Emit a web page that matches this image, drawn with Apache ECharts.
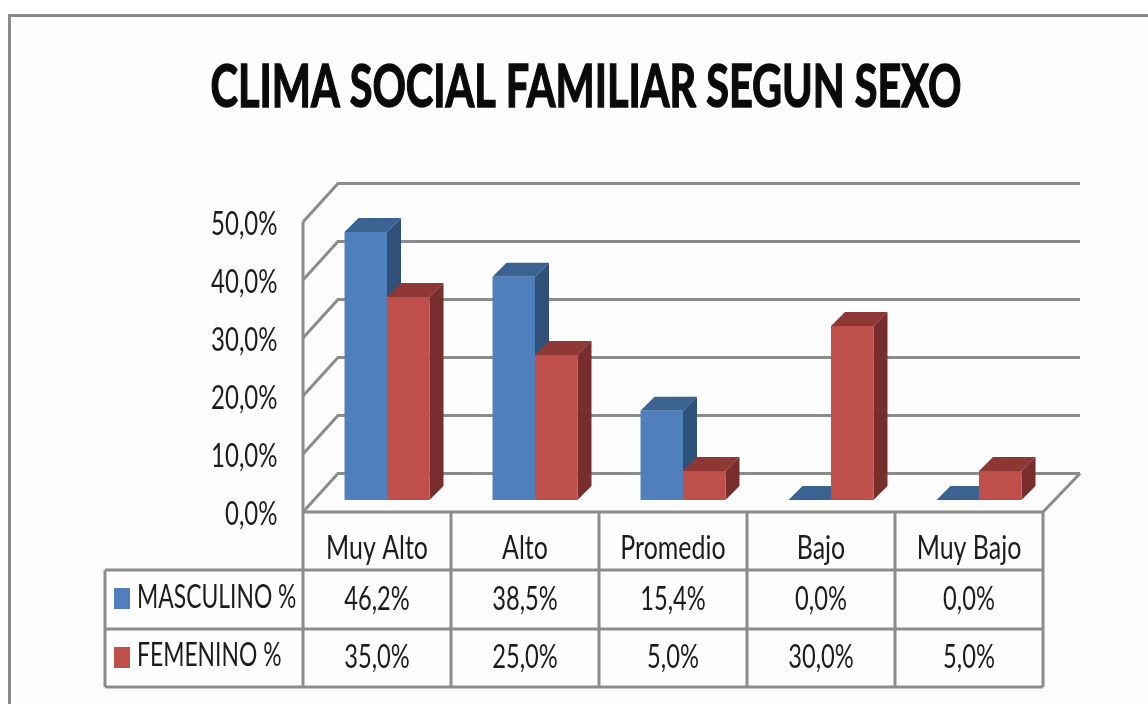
<!DOCTYPE html>
<html>
<head>
<meta charset="utf-8">
<style>html,body{margin:0;padding:0;background:#fff}#c{width:1148px;height:704px}</style>
<script src="https://cdn.jsdelivr.net/npm/echarts@6/dist/echarts.min.js"></script>
</head>
<body>
<div id="c"></div>
<script>
const categories = ['Muy Alto', 'Alto', 'Promedio', 'Bajo', 'Muy Bajo'];
const masculino = [46.2, 38.5, 15.4, 0, 0];
const femenino = [35, 25, 5, 30, 5];
const seriesNames = ['MASCULINO %', 'FEMENINO %'];
const yTicks = [0, 10, 20, 30, 40, 50];
const titleText = 'CLIMA SOCIAL FAMILIAR SEGUN SEXO';

const GRID = '#8b8b8b', INK = '#1c1c1c';
const FONT = '32px Lato, "Noto Sans", sans-serif';
const fmt = v => v.toFixed(1).replace('.', ',') + '%';
const skins = [
  {front: '#4f7fbc', top: '#3b6391', side: '#2f5079', rowY: 600},
  {front: '#bf4f4b', top: '#8e3836', side: '#772e2c', rowY: 658}
];
const line = (pts, z2) => ({type: 'polyline', z2: z2 || 0, shape: {points: pts}, style: {stroke: GRID, lineWidth: 3, fill: null}});
const label = (text, x, y, align, squeeze) => ({
  type: 'text', z2: 5, silent: true, x, y, scaleX: squeeze,
  style: {x: 0, y: 0, text, align, verticalAlign: 'middle', font: FONT, fill: INK}
});

function barSeries(name, values, idx) {
  const s = skins[idx];
  return {
    name, type: 'custom', z: 3,
    itemStyle: {color: s.front},
    data: values.map((v, i) => [i, v]),
    encode: {x: 0, y: 1},
    renderItem(params, api) {
      const i = api.value(0), v = api.value(1);
      const band = api.size([1, 0])[0];
      const w = band * 0.287, lift = 12, shift = 10, d = 14;
      const c = api.coord([i, v]), base = api.coord([i, 0]);
      const x0 = c[0] + shift + (idx === 0 ? -w : 0), x1 = x0 + w;
      const yT = c[1] - lift, yB = base[1] - lift;
      const poly = (pts, fill, z2) => ({type: 'polygon', z2, shape: {points: pts}, style: {fill}});
      const kids = [];
      if (v > 0) kids.push(poly([[x1, yT], [x1 + d, yT - d], [x1 + d, yB - d], [x1, yB]], s.side, 1));
      kids.push(poly([[x0, yT], [x0 + d, yT - d], [x1 + d, yT - d], [x1, yT]], s.top, 1));
      if (v > 0) kids.push({type: 'rect', z2: 2, shape: {x: x0, y: yT, width: w, height: yB - yT}, style: {fill: s.front}});
      kids.push(label(fmt(v), c[0], s.rowY, 'center', 0.74));
      if (i === 0) kids.push(label(name, 137, s.rowY - 2, 'left', 0.715));
      return {type: 'group', children: kids};
    }
  };
}

const wallSeries = {
  type: 'custom', z: 1, silent: true, legendHoverLink: false,
  data: yTicks.map(t => [0, t]),
  encode: {x: 0, y: 1},
  renderItem(params, api) {
    const t = api.value(1);
    const p = api.coord([0, t]);
    const band = api.size([1, 0])[0];
    const left = p[0] - band / 2, right = left + band * categories.length;
    return {type: 'group', children: [
      line([[left, p[1]], [left + 35, p[1] - 38.5], [right + 37, p[1] - 38.5]]),
      label(fmt(t), left - 25.5, p[1] + 3, 'right', 0.75)
    ]};
  }
};

const chart = echarts.init(document.getElementById('c'), null, {renderer: 'canvas'});
chart.setOption({
  animation: false,
  backgroundColor: '#ffffff',
  legend: {
    orient: 'vertical', left: 114, top: 588, itemWidth: 16, itemHeight: 21, itemGap: 38,
    padding: 0, selectedMode: false, formatter: () => ' ',
    data: seriesNames.map((n, i) => ({name: n, icon: 'rect', itemStyle: {color: skins[i].front}})),
    textStyle: {fontSize: 12, lineHeight: 21}
  },
  graphic: {
    elements: [
      {type: 'rect', z: -10, silent: true, shape: {x: 9.5, y: 15.5, width: 1300, height: 900},
        style: {fill: '#fdfdfd', stroke: '#8a8a8a', lineWidth: 3}},
      {type: 'text', z: 5, silent: true, x: 586, y: 88, scaleX: 0.69,
        style: {x: 0, y: 0, text: titleText, align: 'center', verticalAlign: 'middle',
          font: 'bold 60px Lato, "Noto Sans", sans-serif', fill: '#0a0a0a',
          stroke: '#0a0a0a', lineWidth: 1.5}}
    ]
  },
  grid: {left: 303, top: 222, width: 740, height: 290},
  xAxis: {
    type: 'category', data: categories,
    axisLine: {show: false}, axisTick: {show: false}, splitLine: {show: false},
    axisLabel: {show: false}
  },
  yAxis: {
    type: 'value', min: 0, max: 50, interval: 10,
    axisLine: {show: false}, axisTick: {show: false}, splitLine: {show: false},
    axisLabel: {show: false}
  },
  series: [
    wallSeries,
    barSeries(seriesNames[0], masculino, 0),
    barSeries(seriesNames[1], femenino, 1),
    {
      type: 'custom', z: 2, silent: true, legendHoverLink: false,
      data: categories.map((c, i) => [i, 0]),
      encode: {x: 0, y: 1},
      renderItem(params, api) {
        const i = api.value(0);
        const p = api.coord([i, 0]);
        const band = api.size([1, 0])[0];
        const l = p[0] - band / 2, r = l + band;
        const rows = [570, 629, 687];
        const kids = [line([[r, p[1]], [r, rows[2]]])];
        if (i === 0) {
          kids.push(line([[l, p[1] - 290], [l, rows[2]]]));
          rows.forEach(y => kids.push(line([[105, y], [l, y]])));
          kids.push(line([[105, rows[0]], [105, rows[2]]]));
        }
        rows.forEach(y => kids.push(line([[l, y], [r, y]])));
        kids.push(line([[l, p[1]], [r, p[1]]]));
        if (i === categories.length - 1) kids.push(line([[r, p[1]], [r + 37, p[1] - 38.5]]));
        kids.push(label(categories[i], p[0], 549, 'center', 0.78));
        return {type: 'group', children: kids};
      }
    }
  ]
});
</script>
</body>
</html>
